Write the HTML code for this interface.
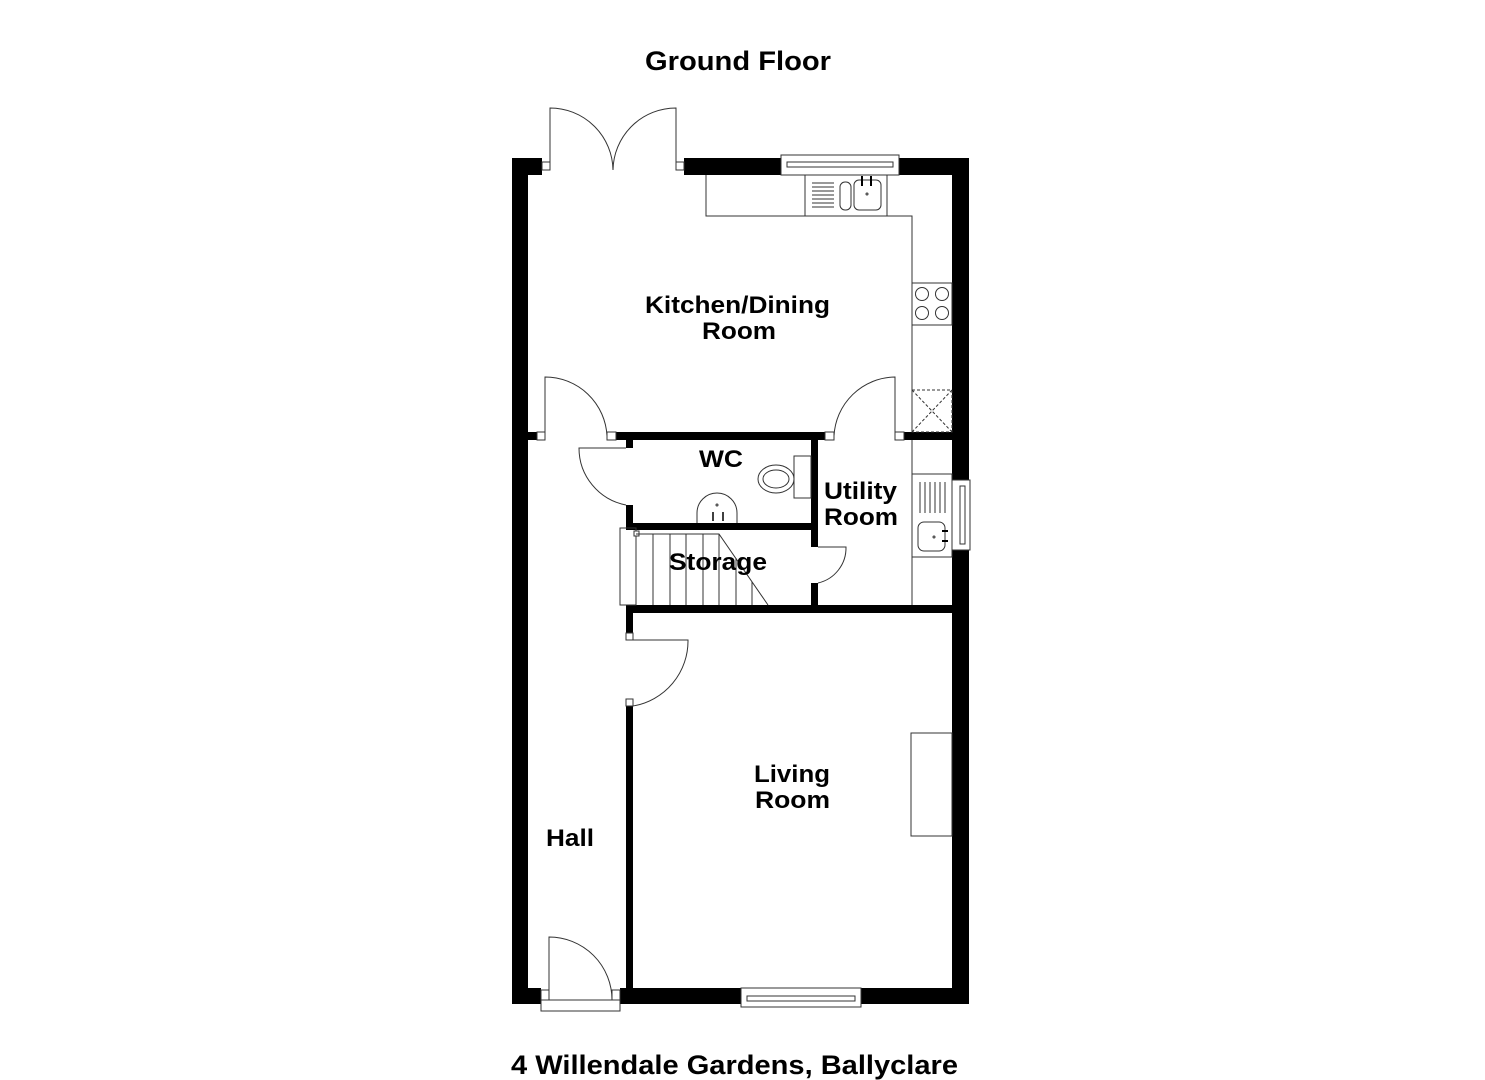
<!DOCTYPE html>
<html><head><meta charset="utf-8"><style>
html,body{margin:0;padding:0;background:#fff;}
svg{display:block;}
text{font-family:"Liberation Sans",Arial,sans-serif;font-weight:bold;fill:#000;}
</style></head><body>
<svg width="1485" height="1080" viewBox="0 0 1485 1080" xmlns="http://www.w3.org/2000/svg">
<rect width="1485" height="1080" fill="#fff"/>
<text x="645" y="70" font-size="27" textLength="186" lengthAdjust="spacingAndGlyphs">Ground Floor</text>
<text x="511" y="1074" font-size="27" textLength="447" lengthAdjust="spacingAndGlyphs">4 Willendale Gardens, Ballyclare</text>

<g fill="#000">
<rect x="512" y="158" width="16" height="846"/>
<rect x="952" y="158" width="17" height="322"/>
<rect x="952" y="550" width="17" height="454"/>
<rect x="512" y="158" width="30" height="17"/>
<rect x="684" y="158" width="97" height="17"/>
<rect x="899" y="158" width="70" height="17"/>
<rect x="512" y="988" width="29" height="16"/>
<rect x="620" y="988" width="121" height="16"/>
<rect x="861" y="988" width="108" height="16"/>
<rect x="528" y="432" width="13" height="8"/>
<rect x="616" y="432" width="209" height="8"/>
<rect x="904" y="432" width="48" height="8"/>
<rect x="626" y="440" width="7" height="8"/>
<rect x="626" y="505" width="7" height="25"/>
<rect x="626" y="523" width="192" height="7"/>
<rect x="811" y="432" width="7" height="115"/>
<rect x="811" y="583" width="7" height="30"/>
<rect x="626" y="605" width="326" height="8"/>
<rect x="626" y="613" width="7" height="27"/>
<rect x="626" y="706" width="7" height="290"/>
</g>

<g fill="none" stroke="#333" stroke-width="1">
<rect x="542" y="162" width="8" height="8" fill="#fff"/>
<rect x="676" y="162" width="8" height="8" fill="#fff"/>
<path d="M550 170 V108 A63 63 0 0 1 613 170"/>
<path d="M676 170 V108 A63 63 0 0 0 613 170"/>
<rect x="781" y="155" width="118" height="20" fill="#fff"/>
<rect x="787" y="162" width="106" height="5"/>
<path d="M706 175 V216 H912 V432"/>
<line x1="805" y1="175" x2="805" y2="216"/>
<line x1="887" y1="175" x2="887" y2="216"/>
<path d="M812 183 H834 M812 187 H834 M812 191 H834 M812 195 H834 M812 199 H834 M812 203 H834 M812 207 H834"/>
<rect x="840" y="182" width="11" height="28" rx="5"/>
<rect x="854" y="180" width="27" height="30" rx="5"/>
<circle cx="867" cy="194" r="1"/>
<path d="M862 176 V186 M871 176 V186" stroke="#000" stroke-width="2"/>
<rect x="912" y="283" width="40" height="42"/>
<circle cx="922" cy="294" r="6.5"/><circle cx="942" cy="294" r="6.5"/>
<circle cx="922" cy="313" r="6.5"/><circle cx="942" cy="313" r="6.5"/>
<rect x="912" y="390" width="40" height="42" stroke-dasharray="3,2"/>
<path d="M912 390 L952 432 M952 390 L912 432" stroke-dasharray="3,2"/>
<rect x="537" y="432" width="8" height="8" fill="#fff"/>
<rect x="607" y="432" width="9" height="8" fill="#fff"/>
<path d="M545 436 V377 A62 62 0 0 1 607 436"/>
<rect x="825" y="432" width="9" height="8" fill="#fff"/>
<rect x="895" y="432" width="9" height="8" fill="#fff"/>
<path d="M895 436 V377 A62 62 0 0 0 834 436"/>
<path d="M626 448 H579 A58 58 0 0 0 626 505"/>
<rect x="794" y="456" width="17" height="42"/>
<ellipse cx="776" cy="479" rx="18" ry="14"/>
<ellipse cx="776" cy="479" rx="13" ry="9"/>
<path d="M697 523 V513 A20 20 0 0 1 737 513 V523"/>
<circle cx="717" cy="505" r="1"/>
<path d="M713 512 V521 M723 512 V521" stroke="#000" stroke-width="1.5"/>
<rect x="620" y="528" width="16" height="77"/>
<rect x="634" y="531" width="5" height="5" fill="#fff"/>
<path d="M636 534 H719 L768 605"/>
<path d="M653 534 V605 M670 534 V605 M686 534 V605 M703 534 V605 M719 534 V605 M736 558 V605 M752 582 V605"/>
<path d="M818 547 H846 A36 36 0 0 1 818 583"/>
<line x1="912" y1="440" x2="912" y2="605"/>
<rect x="912" y="474" width="40" height="83"/>
<path d="M920 482 V513 M925 482 V513 M930 482 V513 M935 482 V513 M940 482 V513 M945 482 V513"/>
<rect x="918" y="522" width="27" height="29" rx="6"/>
<circle cx="934" cy="537" r="1"/>
<path d="M942 531 H948 M942 541 H948" stroke="#000" stroke-width="2"/>
<rect x="952" y="480" width="18" height="70" fill="#fff"/>
<rect x="960" y="486" width="5" height="58"/>
<rect x="626" y="633" width="7" height="7" fill="#fff"/>
<rect x="626" y="699" width="7" height="7" fill="#fff"/>
<path d="M633 640 H688 A66 66 0 0 1 633 706"/>
<rect x="911" y="733" width="41" height="103"/>
<rect x="541" y="990" width="8" height="10" fill="#fff"/>
<rect x="612" y="990" width="8" height="10" fill="#fff"/>
<rect x="541" y="1000" width="79" height="11" fill="#fff"/>
<path d="M549 1000 V937 A63 63 0 0 1 612 1000"/>
<rect x="741" y="988" width="120" height="19" fill="#fff"/>
<rect x="747" y="996" width="108" height="5"/>
</g>

<g font-size="24">
<text x="645" y="313" textLength="185" lengthAdjust="spacingAndGlyphs">Kitchen/Dining</text>
<text x="702" y="339" textLength="74" lengthAdjust="spacingAndGlyphs">Room</text>
<text x="699" y="467" textLength="44" lengthAdjust="spacingAndGlyphs">WC</text>
<text x="824" y="499" textLength="73" lengthAdjust="spacingAndGlyphs">Utility</text>
<text x="824" y="525" textLength="74" lengthAdjust="spacingAndGlyphs">Room</text>
<text x="669" y="570" textLength="98" lengthAdjust="spacingAndGlyphs">Storage</text>
<text x="754" y="782" textLength="76" lengthAdjust="spacingAndGlyphs">Living</text>
<text x="755" y="808" textLength="75" lengthAdjust="spacingAndGlyphs">Room</text>
<text x="546" y="846" textLength="48" lengthAdjust="spacingAndGlyphs">Hall</text>
</g>
</svg>
</body></html>
